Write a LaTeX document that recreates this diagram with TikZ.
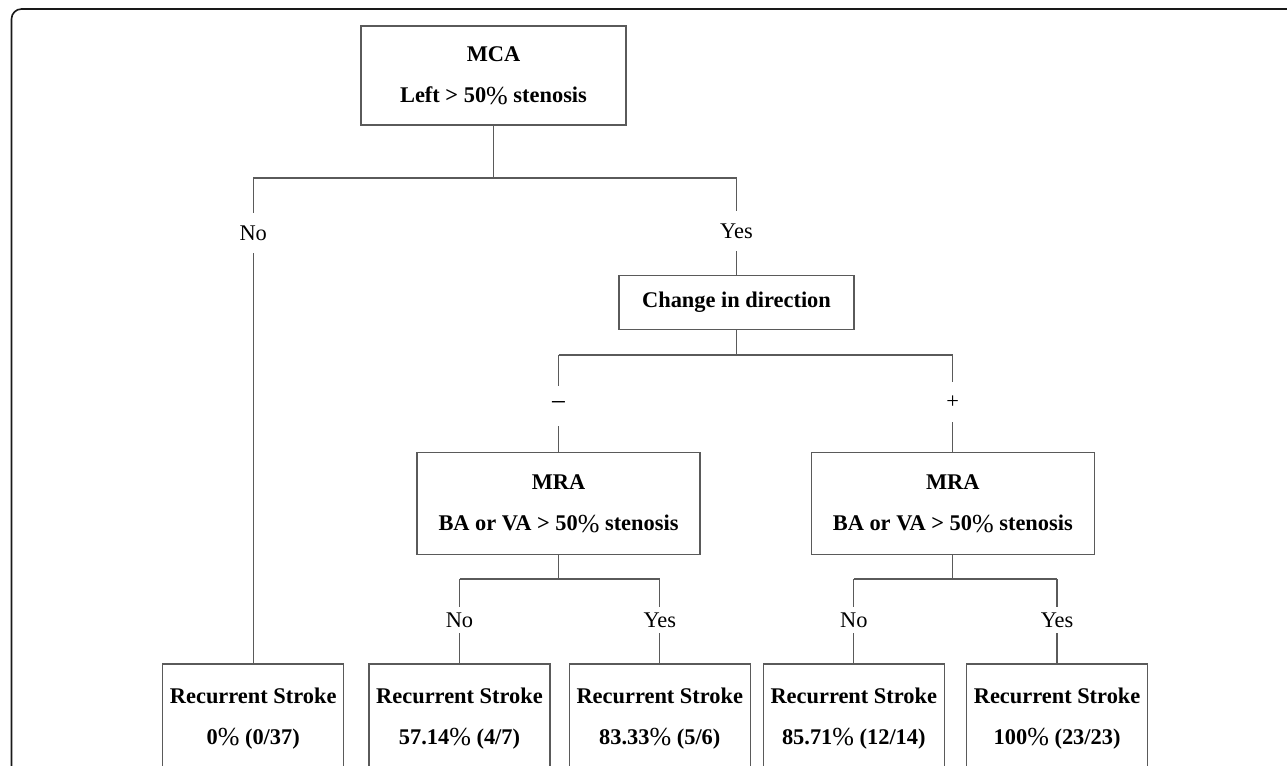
\documentclass[tikz,border=0pt]{standalone}
\usepackage{fontspec}
\setmainfont{Liberation Serif}
\usetikzlibrary{positioning}
\definecolor{colLine}{RGB}{90,90,90}
\definecolor{colFrame}{RGB}{25,25,25}
\tikzset{
    box/.style={rectangle, draw=colLine, line width=0.65pt, inner sep=0pt,
        align=center, font=\fontsize{11.2}{20.5}\selectfont\bfseries},
    rootbox/.style={box, minimum width=132.5pt, minimum height=49.5pt},
    midbox/.style={box, minimum width=117.5pt, minimum height=27pt},
    testbox/.style={box, minimum width=141.5pt, minimum height=51pt},
    leafbox/.style={box, minimum width=90.5pt, minimum height=54.5pt},
    link/.style={draw=colLine, line width=0.65pt},
    lbl/.style={inner sep=0pt, minimum height=20pt, font=\fontsize{11.2}{13}\selectfont},
    smalllbl/.style={lbl, minimum height=13pt}
}
\newcommand{\pct}{\raisebox{-0.8pt}{\fontsize{13}{13}\selectfont\mdseries\%}}

\begin{document}
\begin{tikzpicture}[x=0.5pt, y=-0.5pt, node distance=54pt and 9pt]
    \useasboundingbox (0,0) rectangle (1287,766);
    \clip (0,0) rectangle (1287,766);
    \draw[colFrame, line width=0.8pt, rounded corners=5pt] (11.5,9) rectangle (1330,820);

    % boxes
    \node[rootbox] (mca) at (493.5,75.5) {MCA\\Left > 50\pct{} stenosis};
    \node[midbox, below=74.5pt of mca, xshift=121.5pt] (change) {Change in direction};
    \node[testbox, below=61pt of change, xshift=-89pt] (mraL) {MRA\\BA or VA > 50\pct{} stenosis};
    \node[testbox, right=55pt of mraL] (mraR) {MRA\\BA or VA > 50\pct{} stenosis};

    \node[leafbox, below=54pt of mraL, xshift=-49.5pt] (leafB) {Recurrent Stroke\\57.14\pct{} (4/7)};
    \node[leafbox, left=12pt of leafB] (leafA) {Recurrent Stroke\\0\pct{} (0/37)};
    \node[leafbox, right=of leafB] (leafC) {Recurrent Stroke\\83.33\pct{} (5/6)};
    \node[leafbox, below=54pt of mraR, xshift=-49.5pt] (leafD) {Recurrent Stroke\\85.71\pct{} (12/14)};
    \node[leafbox, right=10.5pt of leafD] (leafE) {Recurrent Stroke\\100\pct{} (23/23)};

    % branch labels
    \node[lbl] (noTop) at (leafA.north |- 0,233) {No};
    \node[lbl] (yesTop) at (change.north |- 0,231) {Yes};
    \node[lbl, font=\fontsize{14}{14}\selectfont] (minus) at (mraL.north |- 0,406) {−};
    \node[lbl] (plus) at (mraR.north |- 0,402) {+};
    \node[smalllbl] (noL) at (leafB.north |- 0,620) {No};
    \node[smalllbl] (yesL) at (leafC.north |- 0,620) {Yes};
    \node[smalllbl] (noR) at (leafD.north |- 0,620) {No};
    \node[smalllbl] (yesR) at (leafE.north |- 0,620) {Yes};

    % split points
    \coordinate (mcaSplit) at (mca.south |- 0,178);
    \coordinate (changeSplit) at (change.south |- 0,355);
    \coordinate (mraLSplit) at (mraL.south |- 0,579);
    \coordinate (mraRSplit) at (mraR.south |- 0,579);

    \draw[link] (mca.south) -- (mcaSplit);
    \draw[link] (leafA.north |- mcaSplit) -- (change.north |- mcaSplit);
    \draw[link] (leafA.north |- mcaSplit) -- (noTop) -- (leafA.north);
    \draw[link] (change.north |- mcaSplit) -- (yesTop) -- (change.north);

    \draw[link] (change.south) -- (changeSplit);
    \draw[link] (mraL.north |- changeSplit) -- (mraR.north |- changeSplit);
    \draw[link] (mraL.north |- changeSplit) -- (minus) -- (mraL.north);
    \draw[link] (mraR.north |- changeSplit) -- (plus) -- (mraR.north);

    \draw[link] (mraL.south) -- (mraLSplit);
    \draw[link] (leafB.north |- mraLSplit) -- (leafC.north |- mraLSplit);
    \draw[link] (leafB.north |- mraLSplit) -- (noL) -- (leafB.north);
    \draw[link] (leafC.north |- mraLSplit) -- (yesL) -- (leafC.north);

    \draw[link] (mraR.south) -- (mraRSplit);
    \draw[link] (leafD.north |- mraRSplit) -- (leafE.north |- mraRSplit);
    \draw[link] (leafD.north |- mraRSplit) -- (noR) -- (leafD.north);
    \draw[link] (leafE.north |- mraRSplit) -- (yesR) -- (leafE.north);

\end{tikzpicture}
\end{document}
